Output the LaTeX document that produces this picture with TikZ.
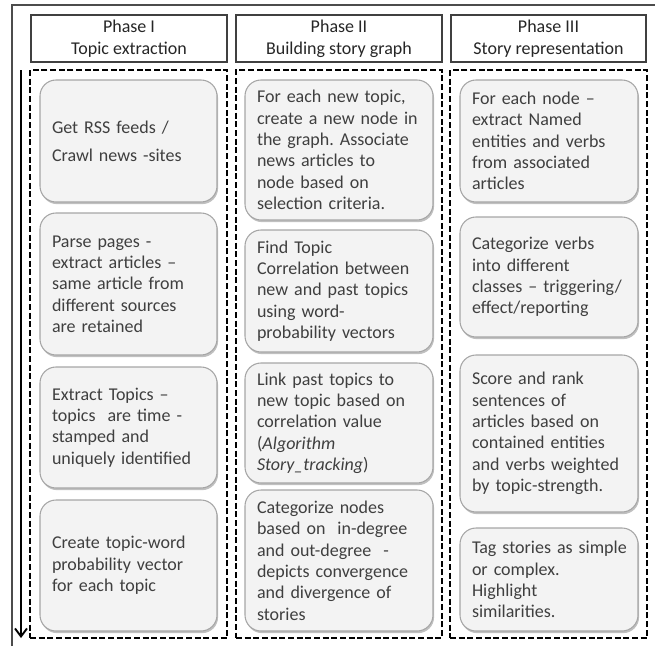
\documentclass[tikz,border=0pt]{standalone}
\usepackage{fontspec}
\setmainfont{Carlito}
\usetikzlibrary{shadows,arrows.meta}
\definecolor{boxtext}{HTML}{3F3F3F}
\definecolor{boxfill}{HTML}{F3F3F3}
\definecolor{boxline}{HTML}{A6A6A6}
\definecolor{headline}{HTML}{404040}
\frenchspacing

\begin{document}
\begin{tikzpicture}[x=0.75pt, y=-0.75pt,
                task_box/.style={rectangle, rounded corners=12pt, draw=boxline, fill=boxfill, line width=0.8pt,
                    drop shadow={shadow xshift=0.8pt, shadow yshift=-1.6pt, opacity=0.45, fill=black!55},
                    inner xsep=9pt, inner ysep=0pt, align=left, text=boxtext,
                    font=\fontsize{13.5}{16}\selectfont},
                phase_head/.style={rectangle, draw=headline, line width=0.8pt, minimum height=35.25pt,
                    inner sep=0pt, align=center, text=black!85, font=\fontsize{13.5}{16.5}\selectfont},
                lane_box/.style={rectangle, draw=black, line width=1.2pt, dash pattern=on 4.5pt off 2pt,
                    minimum height=426pt, inner sep=0pt}]
                \tikzset{flow arrow/.style={draw=black, line width=1.4pt, -{Straight Barb[length=6pt,width=9pt]}}}
                \useasboundingbox (0,0) rectangle (655,646);
                % outer frame (cut at right and bottom)
                \coordinate (fbl) at (12,646);
                \coordinate (ftl) at (12,5);
                \coordinate (ftr) at (655,5);
                \draw [draw=black!70, line width=1pt] (fbl) -- (ftl) -- (ftr);
                % phase headers
                \node [phase_head, minimum width=147pt] (h1) at (129,38.5) {Phase I\\Topic extraction};
                \node [phase_head, minimum width=154.5pt] (h2) at (339,38.5) {Phase II\\Building story graph};
                \node [phase_head, minimum width=146.25pt] (h3) at (548.5,38.5) {Phase III\\Story representation};
                % dashed lanes
                \node [lane_box, minimum width=147.75pt] (l1) at (128.5,354) {};
                \node [lane_box, minimum width=154.5pt] (l2) at (339,354) {};
                \node [lane_box, minimum width=147.75pt] (l3) at (548.5,354) {};
                % phase I
                \node [task_box, text width=114.75pt, minimum height=91.5pt] (t1) at (128.5,141)
                    {Get RSS feeds /\\[5pt]Crawl news -sites};
                \node [task_box, text width=114.75pt, minimum height=106.5pt] (t2) at (128.5,284)
                    {Parse pages -\\extract articles --\\same article from\\different sources\\are retained};
                \node [task_box, text width=114.75pt, minimum height=90.75pt] (t3) at (128.5,427.5)
                    {Extract Topics --\\topics\ \ are time -\\stamped and\\uniquely identified};
                \node [task_box, text width=114.75pt, minimum height=98.25pt] (t4) at (128.5,565.5)
                    {Create topic-word\\probability vector\\for each topic};
                % phase II
                \node [task_box, text width=123pt, minimum height=105pt] (g1) at (339,150)
                    {For each new topic,\\create a new node in\\the graph. Associate\\news articles to\\node based on\\selection criteria.};
                \node [task_box, text width=123pt, minimum height=91.5pt] (g2) at (339,291)
                    {Find Topic\\Correlation between\\new and past\ topics\\using word-\\probability vectors};
                \node [task_box, text width=123pt, minimum height=90pt] (g3) at (339,423)
                    {Link past topics to\\new topic\ based on\\correlation value\\(\textit{Algorithm}\\\textit{Story\_tracking})};
                \node [task_box, text width=123pt, minimum height=105.75pt] (g4) at (339,560.5)
                    {Categorize nodes\\based on\ \ in-degree\\and out-degree\ \ -\\depicts convergence\\and divergence of\\stories};
                % phase III
                \node [task_box, text width=115.5pt, minimum height=91.5pt] (r1) at (549,141)
                    {For each node --\\extract Named\\entities and verbs\\from associated\\articles};
                \node [task_box, text width=115.5pt, minimum height=90pt] (r2) at (549,277)
                    {Categorize verbs\\into different\\classes -- triggering/\\effect/reporting};
                \node [task_box, text width=115.5pt, minimum height=117.75pt] (r3) at (549,433.5)
                    {Score and rank\\sentences of\\articles based on\\contained entities\\and verbs weighted\\by topic-strength.};
                \node [task_box, text width=115.5pt, minimum height=77.25pt] (r4) at (549,579.5)
                    {\rlap{Tag stories as simple}\\or complex.\\Highlight\\similarities.};
                % time arrow
                \coordinate (top) at (21,70);
                \coordinate (bot) at (21,638);
                \draw [flow arrow] (top) -- (bot);
            \end{tikzpicture}
\end{document}
